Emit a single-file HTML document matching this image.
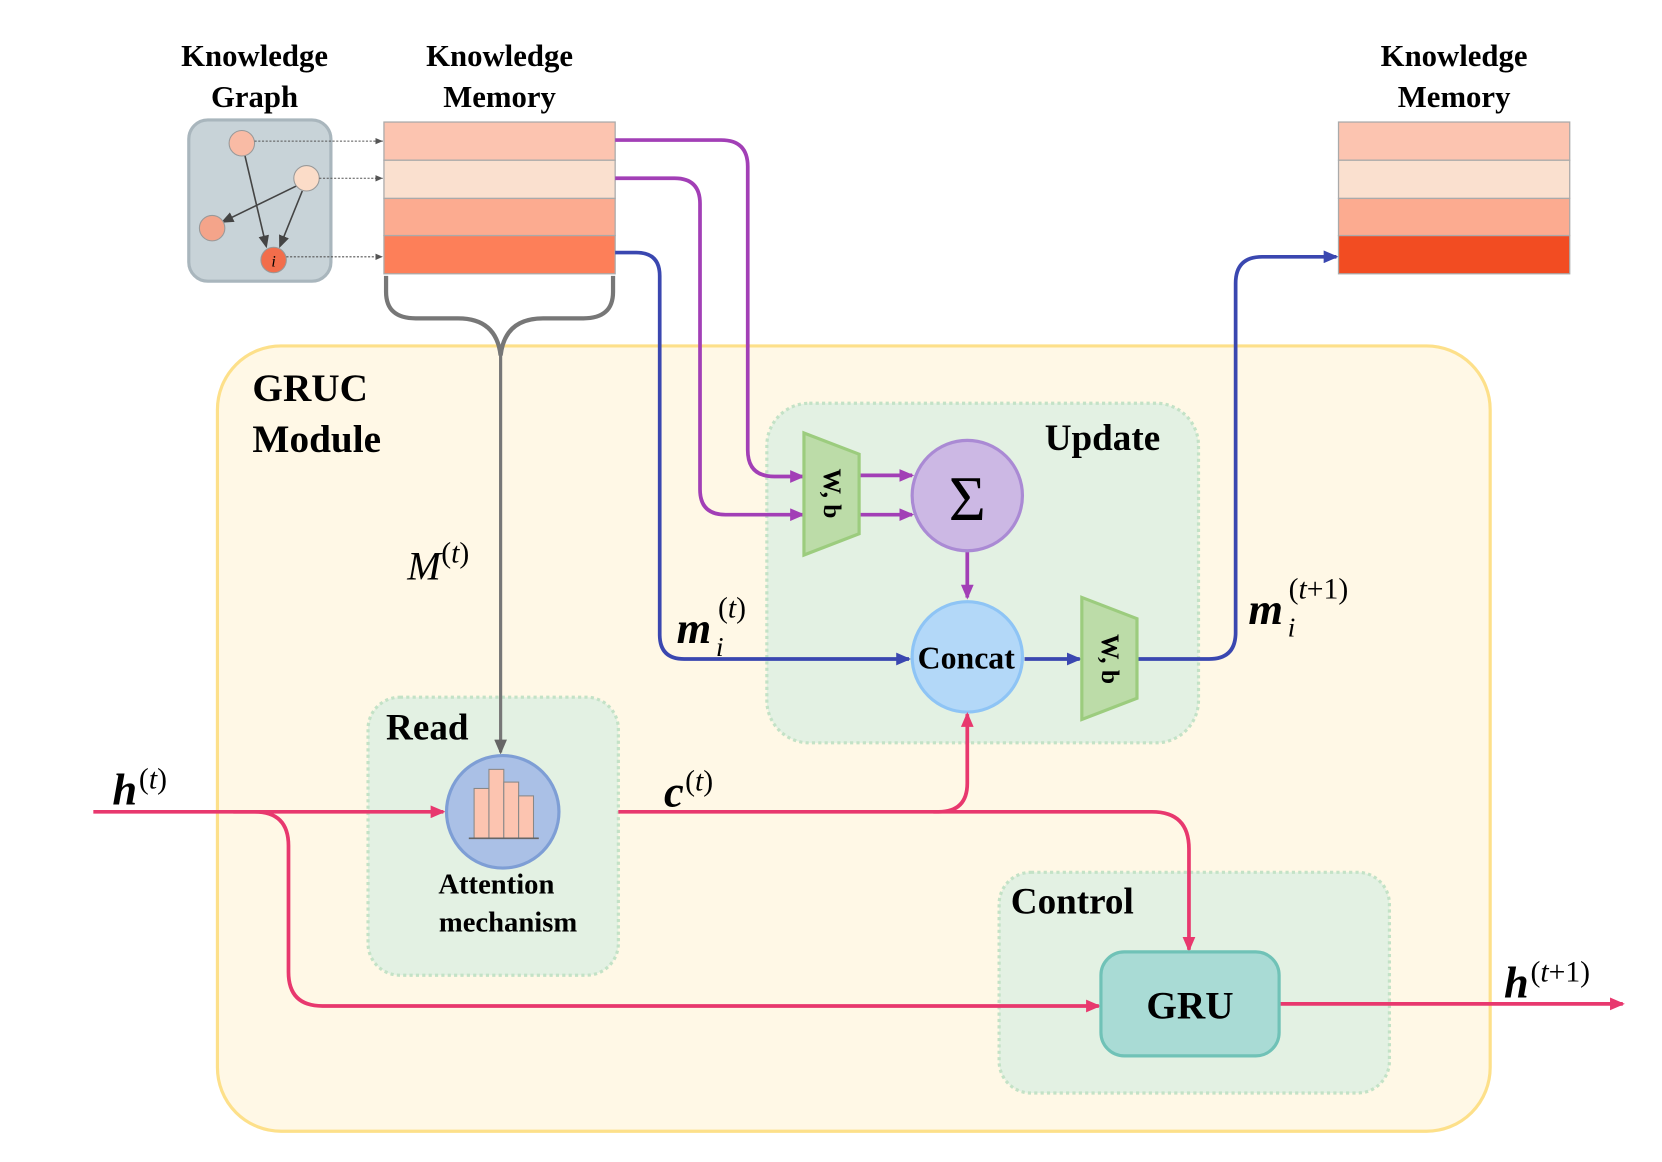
<!DOCTYPE html>
<html><head><meta charset="utf-8"><style>
html,body{margin:0;padding:0;background:#fff;}
svg{display:block;}
text{font-family:"Liberation Serif",serif;}
.t{font-weight:bold;fill:#000;}
</style></head><body>
<svg width="1662" height="1162" viewBox="0 0 1567 1095" preserveAspectRatio="none" xmlns="http://www.w3.org/2000/svg">
<defs>
<marker id="ab" markerWidth="14" markerHeight="12" refX="12" refY="6" orient="auto" markerUnits="userSpaceOnUse"><path d="M0,0 L14,6 L0,12 z" fill="#3a47b0"/></marker>
<marker id="ar" markerWidth="14" markerHeight="12" refX="12" refY="6" orient="auto" markerUnits="userSpaceOnUse"><path d="M0,0 L14,6 L0,12 z" fill="#e8386e"/></marker>
<marker id="apu" markerWidth="14" markerHeight="12" refX="12" refY="6" orient="auto" markerUnits="userSpaceOnUse"><path d="M0,0 L14,6 L0,12 z" fill="#a23fb6"/></marker>
<marker id="ag" markerWidth="14" markerHeight="12" refX="12" refY="6" orient="auto" markerUnits="userSpaceOnUse"><path d="M0,0 L14,6 L0,12 z" fill="#666"/></marker>
<marker id="ad" markerWidth="8" markerHeight="8" refX="7" refY="4" orient="auto" markerUnits="userSpaceOnUse"><path d="M0,1 L7,4 L0,7 z" fill="#555"/></marker>
<marker id="akg" markerWidth="12" markerHeight="10" refX="10" refY="5" orient="auto" markerUnits="userSpaceOnUse"><path d="M0,0 L12,5 L0,10 z" fill="#444"/></marker>
</defs>

<text class="t" x="240" y="62" font-size="29" text-anchor="middle">Knowledge</text>
<text class="t" x="240" y="101" font-size="29" text-anchor="middle">Graph</text>
<text class="t" x="471" y="62" font-size="29" text-anchor="middle">Knowledge</text>
<text class="t" x="471" y="101" font-size="29" text-anchor="middle">Memory</text>
<text class="t" x="1371" y="62" font-size="29" text-anchor="middle">Knowledge</text>
<text class="t" x="1371" y="101" font-size="29" text-anchor="middle">Memory</text>

<rect x="205" y="326" width="1200" height="740" rx="60" fill="#fff8e6" stroke="#fde08a" stroke-width="3"/>
<text class="t" x="238" y="378" font-size="37">GRUC</text>
<text class="t" x="238" y="426" font-size="37">Module</text>

<rect x="723" y="380" width="407" height="320" rx="40" fill="#e3f1e3" stroke="#c3e2c6" stroke-width="3" stroke-dasharray="3,3"/>
<rect x="347" y="657" width="236" height="262" rx="30" fill="#e3f1e3" stroke="#c3e2c6" stroke-width="3" stroke-dasharray="3,3"/>
<rect x="942" y="822" width="368" height="208" rx="30" fill="#e3f1e3" stroke="#c3e2c6" stroke-width="3" stroke-dasharray="3,3"/>
<text class="t" x="985" y="424" font-size="35">Update</text>
<text class="t" x="364" y="697" font-size="35">Read</text>
<text class="t" x="953" y="861" font-size="35">Control</text>

<rect x="178" y="113" width="134" height="152" rx="18" fill="#c8d3d8" stroke="#a9b6bd" stroke-width="3"/>
<line x1="231" y1="147" x2="251" y2="232" stroke="#444" stroke-width="1.5" marker-end="url(#akg)"/>
<line x1="280" y1="175" x2="210" y2="209" stroke="#444" stroke-width="1.5" marker-end="url(#akg)"/>
<line x1="285" y1="180" x2="264" y2="232" stroke="#444" stroke-width="1.5" marker-end="url(#akg)"/>
<circle cx="228" cy="135" r="12" fill="#f9bba5" stroke="#999"/>
<circle cx="289" cy="168" r="12" fill="#fbdcc8" stroke="#999"/>
<circle cx="200" cy="215" r="12" fill="#f4a48a" stroke="#999"/>
<circle cx="258" cy="245" r="12" fill="#f26d4b" stroke="#999"/>
<text x="258" y="251" font-size="15" font-style="italic" text-anchor="middle">i</text>
<line x1="240" y1="133" x2="361" y2="133" stroke="#555" stroke-dasharray="2,1.5" marker-end="url(#ad)"/>
<line x1="301" y1="168" x2="361" y2="168" stroke="#555" stroke-dasharray="2,1.5" marker-end="url(#ad)"/>
<line x1="270" y1="242" x2="361" y2="242" stroke="#555" stroke-dasharray="2,1.5" marker-end="url(#ad)"/>

<g stroke="#aaa" stroke-width="1.2">
<rect x="362" y="115" width="218" height="36" fill="#fcc4b0"/>
<rect x="362" y="151" width="218" height="36" fill="#fae0cf"/>
<rect x="362" y="187" width="218" height="35" fill="#fcab90"/>
<rect x="362" y="222" width="218" height="36" fill="#fd7f59"/>
<rect x="1262" y="115" width="218" height="36" fill="#fcc4b0"/>
<rect x="1262" y="151" width="218" height="36" fill="#fae0cf"/>
<rect x="1262" y="187" width="218" height="35" fill="#fcab90"/>
<rect x="1262" y="222" width="218" height="36" fill="#f24c22"/>
</g>

<path d="M364,260 L364,275 Q364,300 392,300 L432,300 Q468,300 472,335 M578,260 L578,275 Q578,300 550,300 L512,300 Q476,300 472,335" fill="none" stroke="#777" stroke-width="4"/>
<line x1="472" y1="330" x2="472" y2="709" stroke="#777" stroke-width="3" marker-end="url(#ag)"/>

<path d="M580,132 L680,132 Q705,132 705,157 L705,424 Q705,449 730,449 L757,449" fill="none" stroke="#a23fb6" stroke-width="3.5" marker-end="url(#apu)"/>
<path d="M580,168 L636,168 Q660,168 660,192 L660,461 Q660,485 684,485 L757,485" fill="none" stroke="#a23fb6" stroke-width="3.5" marker-end="url(#apu)"/>
<line x1="810" y1="448" x2="860" y2="448" stroke="#a23fb6" stroke-width="3.5" marker-end="url(#apu)"/>
<line x1="810" y1="485" x2="860" y2="485" stroke="#a23fb6" stroke-width="3.5" marker-end="url(#apu)"/>
<line x1="912" y1="520" x2="912" y2="563" stroke="#a23fb6" stroke-width="3.5" marker-end="url(#apu)"/>

<path d="M580,238 L600,238 Q622,238 622,260 L622,598 Q622,621 645,621 L857,621" fill="none" stroke="#3a47b0" stroke-width="3.5" marker-end="url(#ab)"/>
<line x1="966" y1="621" x2="1018" y2="621" stroke="#3a47b0" stroke-width="3.5" marker-end="url(#ab)"/>
<path d="M1072,621 L1140,621 Q1165,621 1165,596 L1165,267 Q1165,242 1190,242 L1260,242" fill="none" stroke="#3a47b0" stroke-width="3.5" marker-end="url(#ab)"/>

<polygon points="758,408 810,428 810,503 758,523" fill="#bcdca8" stroke="#9ccc7e" stroke-width="3"/>
<text class="t" x="0" y="0" font-size="24" transform="translate(777,465) rotate(90)" text-anchor="middle">W, b</text>
<circle cx="912" cy="467" r="52" fill="#ccb8e4" stroke="#aa8ad4" stroke-width="3"/>
<text x="912" y="490" font-size="60" text-anchor="middle">Σ</text>
<circle cx="912" cy="619" r="52" fill="#b3d8f8" stroke="#8ec4f5" stroke-width="3"/>
<text class="t" x="911" y="630" font-size="30" text-anchor="middle">Concat</text>
<polygon points="1020,563 1072,583 1072,658 1020,678" fill="#bcdca8" stroke="#9ccc7e" stroke-width="3"/>
<text class="t" x="0" y="0" font-size="24" transform="translate(1039,621) rotate(90)" text-anchor="middle">W, b</text>

<line x1="88" y1="765" x2="418" y2="765" stroke="#e8386e" stroke-width="3.5" marker-end="url(#ar)"/>
<path d="M220,765 L240,765 Q272,765 272,797 L272,916 Q272,948 304,948 L1036,948" fill="none" stroke="#e8386e" stroke-width="3.5" marker-end="url(#ar)"/>
<path d="M583,765 L885,765 Q912,765 912,738 L912,673" fill="none" stroke="#e8386e" stroke-width="3.5" marker-end="url(#ar)"/>
<path d="M880,765 L1086,765 Q1121,765 1121,800 L1121,895" fill="none" stroke="#e8386e" stroke-width="3.5" marker-end="url(#ar)"/>
<line x1="1206" y1="946" x2="1530" y2="946" stroke="#e8386e" stroke-width="3.5" marker-end="url(#ar)"/>

<circle cx="474" cy="765" r="53" fill="#aac0e6" stroke="#7e9ed5" stroke-width="3"/>
<g fill="#fcc4b0" stroke="#888" stroke-width="1">
<rect x="447" y="743" width="14" height="47"/>
<rect x="461" y="725" width="14" height="65"/>
<rect x="475" y="737" width="14" height="53"/>
<rect x="489" y="750" width="14" height="40"/>
</g>
<line x1="442" y1="790" x2="508" y2="790" stroke="#666" stroke-width="1.5"/>
<text class="t" x="468" y="842" font-size="27" text-anchor="middle">Attention</text>
<text class="t" x="479" y="878" font-size="27" text-anchor="middle">mechanism</text>

<rect x="1038" y="897" width="168" height="98" rx="22" fill="#a9dbd5" stroke="#70c2b7" stroke-width="3"/>
<text class="t" x="1122" y="960" font-size="37" text-anchor="middle">GRU</text>

<text x="384" y="546" font-size="38" font-style="italic">M</text><text x="416" y="530" font-size="28">(<tspan font-style="italic">t</tspan>)</text>
<text x="638" y="606" font-size="42" font-style="italic" font-weight="bold">m</text><text x="675" y="618" font-size="26" font-style="italic">i</text><text x="677" y="582" font-size="28">(<tspan font-style="italic">t</tspan>)</text>
<text x="1177" y="588" font-size="42" font-style="italic" font-weight="bold">m</text><text x="1214" y="600" font-size="26" font-style="italic">i</text><text x="1215" y="564" font-size="28">(<tspan font-style="italic">t</tspan>+1)</text>
<text x="106" y="758" font-size="42" font-style="italic" font-weight="bold">h</text><text x="131" y="743" font-size="28">(<tspan font-style="italic">t</tspan>)</text>
<text x="626" y="760" font-size="42" font-style="italic" font-weight="bold">c</text><text x="646" y="745" font-size="28">(<tspan font-style="italic">t</tspan>)</text>
<text x="1418" y="940" font-size="42" font-style="italic" font-weight="bold">h</text><text x="1443" y="925" font-size="28">(<tspan font-style="italic">t</tspan>+1)</text>
</svg>
</body></html>
